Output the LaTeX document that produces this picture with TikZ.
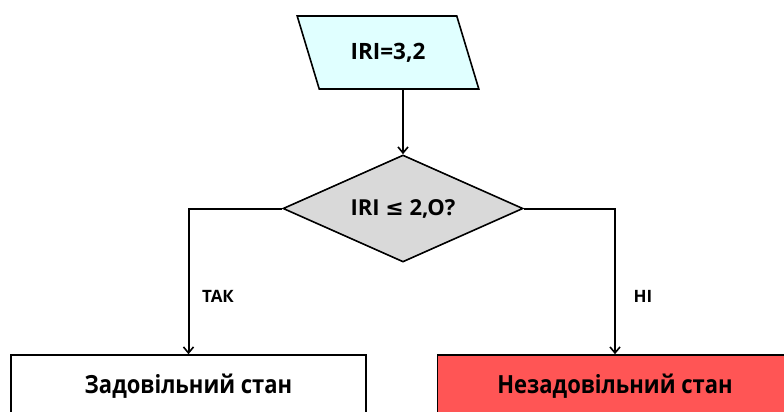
\documentclass[tikz,border=0pt]{standalone}
\usepackage{fontspec}
\setmainfont{Open Sans}
\newfontfamily\condfont[FakeStretch=0.88]{Open Sans}
\newfontfamily\symfont{DejaVu Sans}
\usetikzlibrary{shapes.geometric,arrows.meta}
\definecolor{inputfill}{HTML}{E0FFFF}
\definecolor{decfill}{HTML}{D9D9D9}
\definecolor{badfill}{HTML}{FF5555}
\tikzset{
  x=1pt,y=-1pt,
  conn/.style={line width=2pt},
  arr/.style={conn,-{Straight Barb[length=6pt,width=10pt,line width=1.6pt]}},
  inbox/.style={trapezium,trapezium left angle=122,trapezium right angle=58,trapezium stretches=true,
    draw,line width=1.6pt,fill=inputfill,minimum width=182pt,minimum height=73pt,inner sep=0pt,font=\bfseries\fontsize{22.5}{26}\selectfont},
  decbox/.style={diamond,draw,line width=1.6pt,fill=decfill,minimum width=240pt,minimum height=107pt,inner sep=0pt},
  dectext/.style={inner sep=0pt,font=\bfseries\fontsize{22}{26}\selectfont},
  resbox/.style={rectangle,draw,line width=1.6pt,minimum width=355pt,minimum height=62pt,inner sep=0pt,font=\condfont\bfseries\fontsize{25}{29}\selectfont},
  lbl/.style={font=\bfseries\fontsize{17}{20}\selectfont}
}
\begin{document}
\begin{tikzpicture}
\useasboundingbox[fill=white] (0,0) rectangle (784,412);
\node[inbox] (p) at (388,52.5) {IRI=3,2};
\node[decbox] (d) at (403,208.5) {};
\node[dectext] (dt) at (d.center) {IRI {\symfont\bfseries ≤} 2,O?};
\node[resbox,fill=white] (ok) at (188.5,386) {Задовільний стан};
\node[resbox,fill=badfill] (bad) at (615,386) {Незадовільний стан};
\draw[arr] (d.north |- p.south) -- (d.north);
\draw[arr] (d.west) -| (ok.north);
\draw[arr] (d.east) -| (bad.north);
\node[lbl] (yes) at (218,296) {ТАК};
\node[lbl] (no) at (643,296) {НІ};
\end{tikzpicture}
\end{document}
